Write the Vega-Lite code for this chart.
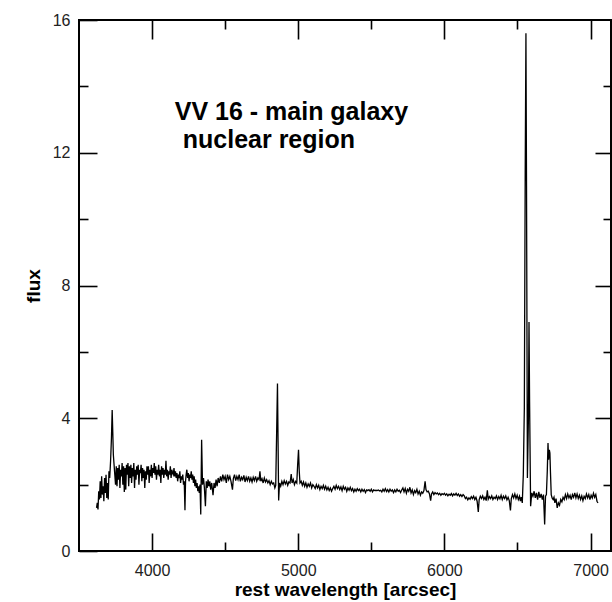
{
"$schema": "https://vega.github.io/schema/vega-lite/v6.json",
"width": 532, "height": 531,
"autosize": "none",
"padding": {"left": 79, "top": 20, "right": 1, "bottom": 51},
"config": {
  "view": {"stroke": "black", "strokeWidth": 2},
  "font": "Liberation Sans",
  "axis": {"grid": false, "domain": false, "tickColor": "black", "tickWidth": 1.6, "labelColor": "#222", "labelFontSize": 16, "labelFont": "Liberation Sans", "titleFont": "Liberation Sans", "titleFontSize": 19, "titleFontWeight": "bold", "titleColor": "black", "labelOverlap": false, "labelFlush": false}
},
"resolve": {"axis": {"x": "independent", "y": "independent"}},
"layer": [
{
  "data": {"values": [
{"w":3620,"f":1.30},{"w":3625,"f":1.45},{"w":3630,"f":1.25},{"w":3635,"f":1.80},{"w":3640,"f":1.55},{"w":3645,"f":2.10},{"w":3650,"f":1.60},{"w":3655,"f":2.25},{"w":3660,"f":1.70},{"w":3665,"f":1.95},{"w":3670,"f":1.50},{"w":3675,"f":2.20},{"w":3680,"f":1.75},{"w":3685,"f":2.30},{"w":3690,"f":1.60},{"w":3695,"f":2.05},{"w":3700,"f":1.55},{"w":3705,"f":2.40},{"w":3710,"f":2.20},{"w":3716,"f":2.70},{"w":3722,"f":3.40},{"w":3727,"f":4.25},{"w":3731,"f":3.60},{"w":3735,"f":2.90},{"w":3740,"f":2.60},{"w":3745,"f":2.30},{"w":3750,"f":2.00},{"w":3755,"f":2.55},{"w":3760,"f":1.95},{"w":3765,"f":2.50},{"w":3770,"f":2.15},{"w":3775,"f":2.60},{"w":3780,"f":1.90},{"w":3785,"f":2.45},{"w":3790,"f":2.25},{"w":3795,"f":2.65},{"w":3800,"f":2.00},{"w":3805,"f":2.55},{"w":3810,"f":1.78},{"w":3815,"f":2.50},{"w":3820,"f":1.85},{"w":3825,"f":2.60},{"w":3830,"f":2.30},{"w":3835,"f":2.65},{"w":3840,"f":1.95},{"w":3845,"f":2.55},{"w":3850,"f":2.20},{"w":3855,"f":2.60},{"w":3860,"f":2.05},{"w":3865,"f":2.50},{"w":3870,"f":2.25},{"w":3875,"f":2.65},{"w":3880,"f":1.90},{"w":3885,"f":2.45},{"w":3890,"f":2.15},{"w":3895,"f":2.55},{"w":3900,"f":2.30},{"w":3905,"f":2.60},{"w":3910,"f":2.00},{"w":3915,"f":2.45},{"w":3920,"f":2.35},{"w":3925,"f":2.60},{"w":3930,"f":2.10},{"w":3935,"f":2.50},{"w":3940,"f":2.20},{"w":3945,"f":2.45},{"w":3950,"f":1.90},{"w":3955,"f":2.40},{"w":3960,"f":2.15},{"w":3965,"f":2.55},{"w":3970,"f":2.30},{"w":3975,"f":2.55},{"w":3980,"f":2.05},{"w":3985,"f":2.45},{"w":3990,"f":2.25},{"w":3995,"f":2.60},{"w":4000,"f":2.20},{"w":4005,"f":2.50},{"w":4010,"f":2.35},{"w":4015,"f":2.65},{"w":4020,"f":2.30},{"w":4025,"f":2.55},{"w":4030,"f":2.15},{"w":4035,"f":2.45},{"w":4040,"f":2.30},{"w":4045,"f":2.60},{"w":4050,"f":2.25},{"w":4055,"f":2.45},{"w":4060,"f":2.05},{"w":4065,"f":2.55},{"w":4070,"f":2.30},{"w":4075,"f":2.50},{"w":4080,"f":2.20},{"w":4085,"f":2.45},{"w":4090,"f":2.30},{"w":4095,"f":2.72},{"w":4100,"f":2.25},{"w":4105,"f":2.45},{"w":4110,"f":2.15},{"w":4115,"f":2.40},{"w":4120,"f":2.30},{"w":4125,"f":2.55},{"w":4130,"f":2.20},{"w":4135,"f":2.45},{"w":4140,"f":2.35},{"w":4145,"f":2.30},{"w":4150,"f":2.50},{"w":4155,"f":2.25},{"w":4160,"f":2.40},{"w":4165,"f":2.20},{"w":4170,"f":2.35},{"w":4175,"f":2.10},{"w":4180,"f":2.30},{"w":4185,"f":2.20},{"w":4190,"f":2.40},{"w":4195,"f":2.05},{"w":4200,"f":2.25},{"w":4205,"f":2.15},{"w":4210,"f":2.30},{"w":4215,"f":2.00},{"w":4220,"f":2.10},{"w":4225,"f":1.23},{"w":4229,"f":2.10},{"w":4233,"f":2.30},{"w":4238,"f":2.45},{"w":4243,"f":2.20},{"w":4248,"f":2.35},{"w":4253,"f":2.10},{"w":4258,"f":2.30},{"w":4263,"f":2.20},{"w":4268,"f":2.40},{"w":4273,"f":2.15},{"w":4278,"f":2.30},{"w":4283,"f":2.05},{"w":4288,"f":2.25},{"w":4293,"f":1.95},{"w":4298,"f":2.15},{"w":4303,"f":1.90},{"w":4308,"f":2.05},{"w":4313,"f":1.80},{"w":4318,"f":1.95},{"w":4323,"f":1.75},{"w":4328,"f":2.00},{"w":4333,"f":1.10},{"w":4339,"f":3.35},{"w":4345,"f":2.00},{"w":4352,"f":2.20},{"w":4358,"f":1.90},{"w":4365,"f":1.35},{"w":4371,"f":2.10},{"w":4377,"f":1.90},{"w":4383,"f":2.15},{"w":4389,"f":1.95},{"w":4395,"f":2.10},{"w":4401,"f":1.85},{"w":4408,"f":2.05},{"w":4417,"f":1.68},{"w":4424,"f":2.05},{"w":4431,"f":1.90},{"w":4438,"f":2.15},{"w":4445,"f":1.95},
{"w":4452,"f":2.20},{"w":4460,"f":2.05},{"w":4468,"f":2.25},{"w":4476,"f":2.10},{"w":4484,"f":2.30},{"w":4492,"f":2.15},{"w":4500,"f":2.25},{"w":4508,"f":2.05},{"w":4516,"f":2.30},{"w":4524,"f":2.15},{"w":4532,"f":2.25},{"w":4540,"f":2.10},{"w":4550,"f":1.85},{"w":4556,"f":2.18},{"w":4564,"f":2.30},{"w":4572,"f":2.12},{"w":4580,"f":2.25},{"w":4588,"f":2.15},{"w":4596,"f":2.30},{"w":4604,"f":2.10},{"w":4612,"f":2.22},{"w":4620,"f":2.15},{"w":4628,"f":2.28},{"w":4636,"f":2.08},{"w":4644,"f":2.22},{"w":4652,"f":2.12},{"w":4660,"f":2.25},{"w":4668,"f":2.10},{"w":4676,"f":2.20},{"w":4684,"f":2.08},{"w":4692,"f":2.22},{"w":4700,"f":2.12},{"w":4708,"f":2.25},{"w":4716,"f":2.10},{"w":4724,"f":2.20},{"w":4732,"f":2.15},{"w":4738,"f":2.40},{"w":4744,"f":2.10},{"w":4752,"f":2.18},{"w":4760,"f":2.05},{"w":4768,"f":2.20},{"w":4776,"f":2.08},{"w":4784,"f":2.15},{"w":4792,"f":2.05},{"w":4800,"f":2.12},{"w":4808,"f":2.00},{"w":4816,"f":2.10},{"w":4824,"f":2.02},{"w":4832,"f":2.05},{"w":4840,"f":1.90},{"w":4846,"f":1.98},{"w":4852,"f":3.50},{"w":4858,"f":5.05},{"w":4862,"f":3.30},{"w":4866,"f":1.52},{"w":4872,"f":2.05},{"w":4880,"f":1.95},{"w":4888,"f":2.10},{"w":4896,"f":2.00},{"w":4904,"f":2.12},{"w":4912,"f":2.02},{"w":4920,"f":2.10},{"w":4928,"f":1.98},{"w":4936,"f":2.08},{"w":4944,"f":2.05},{"w":4952,"f":2.32},{"w":4958,"f":2.05},{"w":4966,"f":2.15},{"w":4974,"f":2.00},{"w":4982,"f":2.10},{"w":4990,"f":2.05},{"w":4996,"f":2.60},{"w":5002,"f":3.05},{"w":5007,"f":2.40},{"w":5012,"f":2.05},{"w":5020,"f":2.10},{"w":5028,"f":1.98},{"w":5036,"f":2.08},{"w":5044,"f":1.95},{"w":5052,"f":2.05},{"w":5060,"f":1.92},{"w":5068,"f":2.02},{"w":5076,"f":1.95},{"w":5084,"f":2.05},{"w":5092,"f":1.90},{"w":5100,"f":2.00},
{"w":5108,"f":1.95},{"w":5116,"f":1.88},{"w":5124,"f":2.00},{"w":5132,"f":1.90},{"w":5140,"f":1.98},{"w":5148,"f":1.85},{"w":5156,"f":1.95},{"w":5164,"f":1.88},{"w":5172,"f":1.98},{"w":5180,"f":1.86},{"w":5188,"f":1.95},{"w":5196,"f":1.84},{"w":5204,"f":1.92},{"w":5212,"f":1.82},{"w":5220,"f":1.90},{"w":5228,"f":1.80},{"w":5236,"f":1.88},{"w":5244,"f":1.95},{"w":5252,"f":1.86},{"w":5260,"f":1.98},{"w":5268,"f":1.88},{"w":5276,"f":1.95},{"w":5284,"f":1.85},{"w":5292,"f":1.93},{"w":5300,"f":1.82},{"w":5308,"f":1.95},{"w":5316,"f":1.86},{"w":5324,"f":1.92},{"w":5332,"f":1.80},{"w":5340,"f":1.90},{"w":5348,"f":1.83},{"w":5356,"f":1.92},{"w":5364,"f":1.82},{"w":5372,"f":1.88},{"w":5380,"f":1.78},{"w":5388,"f":1.86},{"w":5396,"f":1.80},{"w":5404,"f":1.88},{"w":5412,"f":1.82},{"w":5420,"f":1.86},{"w":5428,"f":1.78},{"w":5436,"f":1.86},{"w":5444,"f":1.80},{"w":5452,"f":1.85},{"w":5460,"f":1.76},{"w":5468,"f":1.84},{"w":5476,"f":1.82},{"w":5484,"f":1.85},{"w":5492,"f":1.80},{"w":5500,"f":1.86},{"w":5508,"f":1.78},{"w":5516,"f":1.84},{"w":5524,"f":1.82},{"w":5532,"f":1.83},{"w":5540,"f":1.82},{"w":5548,"f":1.84},{"w":5556,"f":1.81},{"w":5564,"f":1.83},{"w":5572,"f":1.78},{"w":5580,"f":1.86},{"w":5588,"f":1.80},{"w":5596,"f":1.88},{"w":5604,"f":1.79},{"w":5612,"f":1.85},{"w":5620,"f":1.78},{"w":5628,"f":1.86},{"w":5636,"f":1.80},{"w":5644,"f":1.84},{"w":5652,"f":1.76},{"w":5660,"f":1.84},{"w":5668,"f":1.78},{"w":5676,"f":1.86},{"w":5684,"f":1.80},{"w":5692,"f":1.83},{"w":5700,"f":1.76},{"w":5708,"f":1.84},{"w":5716,"f":1.90},{"w":5724,"f":1.78},{"w":5732,"f":1.88},{"w":5740,"f":1.74},{"w":5748,"f":1.86},{"w":5756,"f":1.80},{"w":5764,"f":1.92},{"w":5772,"f":1.75},{"w":5780,"f":1.84},{"w":5788,"f":1.70},{"w":5796,"f":1.82},{"w":5804,"f":1.76},{"w":5812,"f":1.86},{"w":5820,"f":1.72},{"w":5828,"f":1.80},{"w":5836,"f":1.68},{"w":5844,"f":1.78},{"w":5852,"f":1.74},{"w":5860,"f":1.82},{"w":5868,"f":2.10},{"w":5874,"f":1.85},{"w":5882,"f":1.78},{"w":5890,"f":1.80},{"w":5898,"f":1.72},{"w":5906,"f":1.52},{"w":5912,"f":1.72},{"w":5920,"f":1.78},{"w":5928,"f":1.70},{"w":5936,"f":1.76},{"w":5944,"f":1.72},{"w":5952,"f":1.75},{"w":5960,"f":1.70},{"w":5968,"f":1.74},{"w":5976,"f":1.68},{"w":5984,"f":1.73},{"w":5992,"f":1.70},{"w":6000,"f":1.74},{"w":6008,"f":1.68},{"w":6016,"f":1.72},{"w":6024,"f":1.66},{"w":6032,"f":1.71},{"w":6040,"f":1.68},{"w":6048,"f":1.73},{"w":6056,"f":1.66},{"w":6064,"f":1.72},{"w":6072,"f":1.68},{"w":6080,"f":1.74},{"w":6088,"f":1.67},{"w":6096,"f":1.72},{"w":6104,"f":1.65},{"w":6112,"f":1.70},{"w":6120,"f":1.64},{"w":6128,"f":1.70},{"w":6136,"f":1.66},{"w":6144,"f":1.58},{"w":6152,"f":1.62},{"w":6160,"f":1.54},{"w":6168,"f":1.60},{"w":6176,"f":1.56},{"w":6184,"f":1.64},{"w":6192,"f":1.58},{"w":6200,"f":1.65},{"w":6208,"f":1.55},{"w":6216,"f":1.62},{"w":6224,"f":1.50},{"w":6232,"f":1.18},{"w":6238,"f":1.55},{"w":6246,"f":1.65},{"w":6254,"f":1.58},{"w":6262,"f":1.66},{"w":6270,"f":1.55},{"w":6278,"f":1.62},{"w":6286,"f":1.52},{"w":6294,"f":1.83},{"w":6300,"f":1.56},{"w":6308,"f":1.64},{"w":6316,"f":1.58},{"w":6324,"f":1.66},{"w":6332,"f":1.55},{"w":6340,"f":1.62},{"w":6348,"f":1.58},{"w":6356,"f":1.66},{"w":6364,"f":1.55},{"w":6372,"f":1.64},{"w":6380,"f":1.57},{"w":6388,"f":1.68},{"w":6396,"f":1.55},{"w":6404,"f":1.65},{"w":6412,"f":1.58},{"w":6420,"f":1.66},{"w":6428,"f":1.54},{"w":6436,"f":1.62},{"w":6444,"f":1.52},{"w":6452,"f":1.22},{"w":6458,"f":1.58},{"w":6466,"f":1.70},{"w":6474,"f":1.60},{"w":6482,"f":1.72},{"w":6490,"f":1.58},{"w":6498,"f":1.68},{"w":6506,"f":1.55},{"w":6514,"f":1.65},{"w":6520,"f":1.50},{"w":6526,"f":1.62},{"w":6533,"f":1.45},{"w":6540,"f":2.30},{"w":6547,"f":4.30},{"w":6553,"f":11.40},{"w":6558,"f":15.60},{"w":6562,"f":11.00},{"w":6568,"f":2.20},{"w":6575,"f":4.00},{"w":6579,"f":6.90},{"w":6583,"f":4.50},{"w":6590,"f":1.35},{"w":6598,"f":1.75},{"w":6606,"f":1.65},{"w":6614,"f":1.80},{"w":6622,"f":1.60},{"w":6630,"f":1.75},{"w":6638,"f":1.55},{"w":6646,"f":1.78},{"w":6654,"f":1.60},{"w":6662,"f":1.72},{"w":6670,"f":1.55},{"w":6678,"f":1.70},{"w":6686,"f":0.80},{"w":6692,"f":1.65},{"w":6698,"f":1.70},{"w":6704,"f":2.40},{"w":6709,"f":3.25},{"w":6713,"f":2.75},{"w":6718,"f":3.05},{"w":6722,"f":2.95},{"w":6726,"f":2.35},{"w":6731,"f":1.70},{"w":6737,"f":1.60},{"w":6744,"f":1.55},{"w":6750,"f":1.62},{"w":6756,"f":1.45},{"w":6764,"f":1.58},{"w":6772,"f":1.30},{"w":6780,"f":1.45},{"w":6788,"f":1.38},{"w":6796,"f":1.55},{"w":6804,"f":1.48},{"w":6812,"f":1.62},{"w":6820,"f":1.55},{"w":6828,"f":1.70},{"w":6836,"f":1.58},{"w":6844,"f":1.72},{"w":6852,"f":1.60},{"w":6860,"f":1.68},{"w":6868,"f":1.55},{"w":6876,"f":1.70},{"w":6884,"f":1.62},{"w":6892,"f":1.75},{"w":6900,"f":1.60},{"w":6908,"f":1.72},{"w":6916,"f":1.58},{"w":6924,"f":1.68},{"w":6932,"f":1.55},{"w":6940,"f":1.66},{"w":6948,"f":1.52},{"w":6956,"f":1.65},{"w":6964,"f":1.58},{"w":6972,"f":1.72},{"w":6980,"f":1.60},{"w":6988,"f":1.70},{"w":6996,"f":1.55},{"w":7004,"f":1.68},{"w":7012,"f":1.60},{"w":7020,"f":1.74},{"w":7028,"f":1.62},{"w":7036,"f":1.70},{"w":7044,"f":1.50},{"w":7051,"f":1.45}
  ]},
  "mark": {"type": "line", "color": "black", "strokeWidth": 1.3},
  "encoding": {
    "x": {"field": "w", "type": "quantitative", "scale": {"domain": [3500, 7140], "nice": false, "zero": false},
      "axis": {"orient": "bottom", "values": [4000,5000,6000,7000], "format": "d",
        "offset": -18, "tickSize": 18, "labelPadding": 11, "title": "rest wavelength [arcsec]", "titlePadding": 2}},
    "y": {"field": "f", "type": "quantitative", "scale": {"domain": [0, 16], "nice": false, "zero": false},
      "axis": {"orient": "left", "values": [0,4,8,12,16],
        "offset": -18, "tickSize": 18, "labelPadding": 9, "title": "flux", "titlePadding": 9}}
  }
},
{
  "data": {"values": [{"t": "VV 16 - main galaxy"}]},
  "mark": {"type": "text", "align": "left", "baseline": "alphabetic", "fontWeight": "bold", "fontSize": 25, "font": "Liberation Sans", "color": "black"},
  "encoding": {
    "x": {"datum": 4155, "type": "quantitative",
      "axis": {"orient": "top", "values": [4000,5000,6000,7000], "labels": false, "title": null, "offset": -19, "tickSize": 19}},
    "y": {"datum": 13.0, "type": "quantitative",
      "axis": {"orient": "right", "values": [4,8,12], "labels": false, "title": null, "offset": -16, "tickSize": 16}},
    "text": {"field": "t"}
  }
},
{
  "data": {"values": [{"t": "nuclear region"}]},
  "mark": {"type": "text", "align": "left", "baseline": "alphabetic", "fontWeight": "bold", "fontSize": 25, "font": "Liberation Sans", "color": "black"},
  "encoding": {
    "x": {"datum": 4210, "type": "quantitative",
      "axis": {"orient": "bottom", "values": [4500,5500,6500], "labels": false, "title": null, "offset": -9, "tickSize": 9}},
    "y": {"datum": 12.13, "type": "quantitative",
      "axis": {"orient": "left", "values": [2,6,10,14], "labels": false, "title": null, "offset": -9, "tickSize": 9}},
    "text": {"field": "t"}
  }
},
{
  "data": {"values": [{"t": ""}]},
  "mark": {"type": "text", "opacity": 0},
  "encoding": {
    "x": {"datum": 5000, "type": "quantitative",
      "axis": {"orient": "top", "values": [4500,5500,6500], "labels": false, "title": null, "offset": -9, "tickSize": 9}},
    "y": {"datum": 8, "type": "quantitative",
      "axis": {"orient": "right", "values": [2,6,10,14], "labels": false, "title": null, "offset": -8, "tickSize": 8}},
    "text": {"field": "t"}
  }
}
]
}
